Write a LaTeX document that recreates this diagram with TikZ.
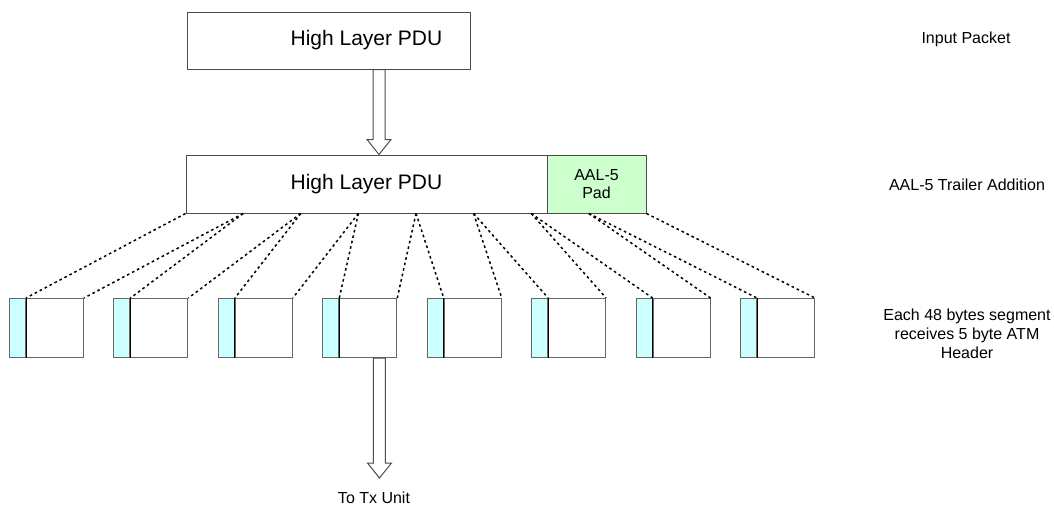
\documentclass[tikz,border=0pt]{standalone}
\usepackage{fontspec}
\setmainfont{Liberation Sans}
\usetikzlibrary{calc}
\definecolor{padgreen}{HTML}{CCFFCC}
\definecolor{hdrblue}{HTML}{CCFFFF}
\newcommand\blockarrow[2]{%
  \draw[blockarr] ($(#1)+(-6,0)$) -- ($(#2)+(-6,-15)$) -- ($(#2)+(-12,-15)$) -- (#2)
    -- ($(#2)+(12,-15)$) -- ($(#2)+(6,-15)$) -- ($(#1)+(6,0)$) -- cycle;}
\begin{document}
\begin{tikzpicture}[x=1pt,y=-1pt,
  box/.style={draw=black!70, line width=1pt, fill=white, inner sep=0pt},
  pdutext/.style={font=\fontsize{21}{25}\selectfont},
  lbl/.style={font=\fontsize{16}{19}\selectfont, align=center, inner sep=0pt},
  padlbl/.style={font=\fontsize{16}{17.5}\selectfont, align=center},
  hdr/.style={draw=black!60, fill=hdrblue, line width=1pt, inner sep=0pt,
              minimum width=16pt, minimum height=59pt, anchor=north west},
  seg/.style={draw=black!60, fill=white, line width=1pt, inner sep=0pt,
              minimum width=57pt, minimum height=59pt, anchor=north west},
  link/.style={draw=black, line width=1.5pt, dash pattern=on 2.6pt off 3pt},
  blockarr/.style={draw=black!70, fill=white, line width=1pt, line join=miter}]
\useasboundingbox (0,0) rectangle (1054,507);
\fill[white] (0,0) rectangle (1054,507);

% top PDU
\node[box, minimum width=283pt, minimum height=57pt] (top) at (328.5,40.5) {};
\node[pdutext, inner sep=0pt] (toptxt) at (366.5,40.5) {High Layer PDU};

% middle PDU + pad
\node[box, pdutext, minimum width=361pt, minimum height=58pt] (pdu) at (366.5,184) {High Layer PDU};
\node[box, padlbl, fill=padgreen, minimum width=99pt, minimum height=58pt] (pad) at (596.5,184) {AAL-5\\Pad};

% boundary points
\foreach \j in {0,...,8} {
  \coordinate (b\j) at ($(pdu.south west)!\j/8!(pad.south east)$);
}

% cells
\foreach \i in {1,...,8} {
  \pgfmathsetmacro\L{9+104.43*(\i-1)}
  \node[hdr] (h\i) at (\L,298) {};
  \node[seg] (d\i) at (h\i.north east) {};
  \draw[black, line width=1pt] (h\i.north east) -- (h\i.south east);
}

% dotted links
\foreach \i [evaluate=\i as \j using int(\i-1)] in {1,...,8} {
  \draw[link] (b\j) -- (h\i.north east);
  \draw[link] (b\i) -- (d\i.north east);
}

% arrows
\path (top.south) ++(50.5,0) coordinate (a1s);
\path (pdu.north) ++(12.5,0) coordinate (a1e);
\blockarrow{a1s}{a1e}

\node[lbl] (tx) at (374,498) {To Tx Unit};
\path (d4.south) ++(11.2,0) coordinate (a2s);
\path (a2s) ++(0,120) coordinate (a2e);
\blockarrow{a2s}{a2e}

% right labels
\node[lbl] (inp) at (966,39) {Input Packet};
\node[lbl] (trl) at (967,185) {AAL-5 Trailer Addition};
\node[lbl] (each) at (967,334) {Each 48 bytes segment\\receives 5 byte ATM\\Header};
\end{tikzpicture}
\end{document}
